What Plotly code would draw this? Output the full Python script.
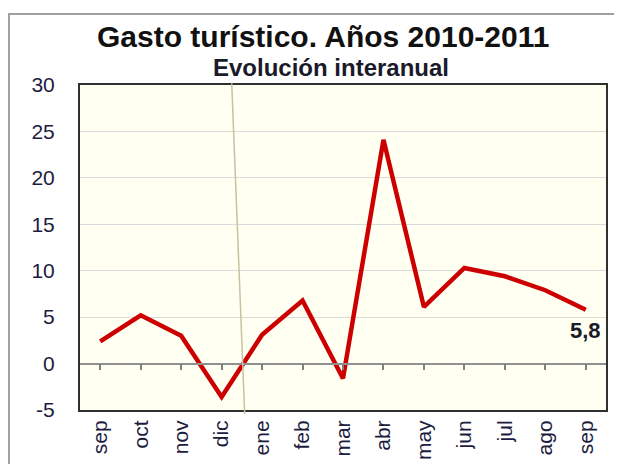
import plotly.graph_objects as go

months = ["sep", "oct", "nov", "dic", "ene", "feb", "mar", "abr", "may", "jun", "jul", "ago", "sep"]
values = [2.4, 5.2, 3.0, -3.6, 3.1, 6.8, -1.6, 24.1, 6.1, 10.3, 9.4, 7.9, 5.8]
positions = list(range(len(months)))
last_label = "5,8"
title = "Gasto turístico. Años 2010-2011"
subtitle = "Evolución interanual"
y_ticks = [-5, 0, 5, 10, 15, 20, 25, 30]
y_ticktext = ["-5", "0", "5", "10", "15", "20", "25", "30"]

W, H = 614, 456
L, R, T, B = 72, 16, 77, 54
PH = H - T - B

fig = go.Figure()
fig.add_trace(go.Scatter(
    x=positions, y=values, mode="lines",
    line=dict(color="#CC0000", width=4.5), hoverinfo="skip", showlegend=False,
))
fig.add_trace(go.Scatter(x=positions, y=values, xaxis="x2", mode="lines",
                         line=dict(width=0), opacity=0, showlegend=False, hoverinfo="skip"))

font_tick = dict(family="Liberation Sans, Arial", size=21, color="#1c1c40")

fig.update_layout(
    width=W, height=H,
    margin=dict(l=L, r=R, t=T, b=B),
    paper_bgcolor="white", plot_bgcolor="#FFFFF2",
    xaxis=dict(
        range=[-0.5, len(months) - 0.5], tickmode="array", tickvals=positions, ticktext=months,
        tickangle=-90, tickfont=font_tick, showgrid=False, zeroline=False,
        showline=True, mirror=True, linecolor="#303030", linewidth=2, ticks="",
        automargin=False,
    ),
    xaxis2=dict(
        overlaying="x", anchor="free", position=5 / 35, matches="x",
        range=[-0.5, len(months) - 0.5], tickmode="array", tickvals=positions,
        showticklabels=False, ticks="outside", ticklen=6, tickcolor="#808080", tickwidth=1.5,
        showline=True, linecolor="#909090", linewidth=1.5, showgrid=False, zeroline=False,
    ),
    yaxis=dict(
        range=[-5, 30], tickmode="array", tickvals=y_ticks, ticktext=y_ticktext, tickfont=font_tick,
        showgrid=True, gridcolor="#DADADA", gridwidth=1, zeroline=False,
        showline=True, mirror=True, linecolor="#303030", linewidth=2, ticks="",
        ticklabelstandoff=19, automargin=False,
    ),
    annotations=[
        dict(text=f"<b>{title}</b>", x=(315 - L) / 526, y=1.0 + (T - 28) / PH, xref="paper", yref="paper",
             showarrow=False, font=dict(family="Liberation Sans, Arial", size=30, color="#111111"),
             xanchor="center", yanchor="middle"),
        dict(text=f"<b>{subtitle}</b>", x=(323 - L) / 526, y=1.0 + (T - 60) / PH, xref="paper", yref="paper",
             showarrow=False, font=dict(family="Liberation Sans, Arial", size=24, color="#1a1a2a"),
             xanchor="center", yanchor="middle"),
        dict(text=f"<b>{last_label}</b>", x=positions[-1], y=values[-1], xref="x", yref="y",
             showarrow=False, font=dict(family="Liberation Sans, Arial", size=22, color="#1a1a2a"),
             xanchor="center", yanchor="middle", yshift=-21),
    ],
    shapes=[
        dict(type="line", xref="x", yref="paper", x0=3.25, x1=3.57, y0=1.005, y1=-0.012,
             line=dict(color="#C8C2A0", width=1.5)),
        dict(type="rect", xref="paper", yref="paper", x0=(1 - L) / 526, x1=1.5,
             y0=-0.5, y1=(T + PH - 6) / PH, line=dict(color="#A0A0A0", width=2), layer="below"),
    ],
)

fig.write_html("out.html")
